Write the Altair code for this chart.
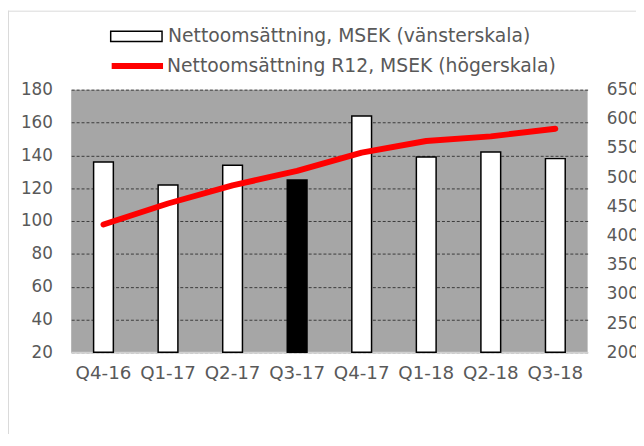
import altair as alt
import pandas as pd

quarters = ["Q4-16", "Q1-17", "Q2-17", "Q3-17", "Q4-17", "Q1-18", "Q2-18", "Q3-18"]
sales = [136, 122, 134, 125, 164, 139, 142, 138]
r12 = [419, 455, 486, 511, 542, 562, 570, 583]
bar_label = "Nettoomsättning, MSEK (vänsterskala)"
line_label = "Nettoomsättning R12, MSEK (högerskala)"
highlight = "Q3-17"
left_ticks = [20, 40, 60, 80, 100, 120, 140, 160, 180]
right_ticks = [200, 250, 300, 350, 400, 450, 500, 550, 600, 650]

df = pd.DataFrame({"q": quarters, "sales": sales, "r12": r12})
df["s1"] = bar_label
df["s2"] = line_label
frame_df = pd.DataFrame({"k": [0]})

FONT = "DejaVu Sans"
TXT = "#595959"
FS = 17
LFS = 19

base = alt.Chart(df)

x = alt.X(
    "q:N",
    sort=quarters,
    title=None,
    scale=alt.Scale(paddingInner=0, paddingOuter=0),
    axis=alt.Axis(labelAngle=0, ticks=False, domainColor="#d0d0d0", domainWidth=2,
                  labelPadding=12, grid=False, labelFont=FONT, labelFontSize=18.5,
                  labelColor=TXT),
)

bars = base.mark_bar(size=20, stroke="black", strokeWidth=1.5).encode(
    x=x,
    y=alt.Y(
        "sales:Q",
        title=None,
        scale=alt.Scale(domain=[20, 180], zero=False, nice=False),
        axis=alt.Axis(values=left_ticks, orient="left", ticks=False, domain=False,
                      grid=True, gridColor="#3a3a3a", gridDash=[3, 2], gridWidth=1,
                      labelPadding=19, labelFont=FONT, labelFontSize=FS, labelColor=TXT),
    ),
    y2=alt.datum(20),
    fill=alt.condition(
        alt.datum.q == highlight,
        alt.value("black"),
        alt.Fill("s1:N", title=None, scale=alt.Scale(range=["white"]),
                 legend=alt.Legend(orient="none", legendX=39, legendY=-81, padding=0,
                                   symbolType="M-1,-0.2L1,-0.2L1,0.2L-1,0.2Z",
                                   symbolSize=2704, symbolStrokeColor="black",
                                   symbolStrokeWidth=1.5, symbolFillColor="white",
                                   labelFont=FONT, labelFontSize=LFS, labelColor=TXT,
                                   labelOffset=5, labelLimit=500)),
    ),
)

line = base.mark_line(strokeWidth=6, strokeCap="round", strokeJoin="round").encode(
    x=x,
    y=alt.Y(
        "r12:Q",
        title=None,
        scale=alt.Scale(domain=[200, 650], zero=False, nice=False),
        axis=alt.Axis(values=right_ticks, orient="right", ticks=False, domain=False,
                      grid=False, labelPadding=19, labelFont=FONT, labelFontSize=FS,
                      labelColor=TXT),
    ),
    stroke=alt.Stroke("s2:N", title=None, scale=alt.Scale(range=["#ff0000"]),
                      legend=alt.Legend(orient="none", legendX=38, legendY=-53, padding=0,
                                        symbolType="stroke", symbolSize=2704,
                                        symbolStrokeWidth=6, symbolStrokeColor="#ff0000",
                                        labelFont=FONT, labelFontSize=LFS, labelColor=TXT,
                                        labelOffset=1, labelLimit=500)),
)

frame_base = alt.Chart(frame_df)
frame_left = frame_base.mark_rule(color="#d9d9d9", strokeWidth=1).encode(
    x=alt.value(-63.5), y=alt.value(-80), y2=alt.value(360)
)
frame_top = frame_base.mark_rule(color="#d9d9d9", strokeWidth=1).encode(
    x=alt.value(-64), x2=alt.value(580), y=alt.value(-79.5)
)

chart = (
    alt.layer(bars, line, frame_left, frame_top)
    .resolve_scale(y="independent", fill="independent", stroke="independent")
    .properties(width=523, height=266, autosize=alt.AutoSizeParams(type="none"),
                padding={"left": 64, "top": 80, "right": 49, "bottom": 80},
                background="white")
    .configure_view(fill="#a6a6a6", stroke=None)
)

chart.save("out.html", embed_options={"renderer": "svg", "actions": False})
